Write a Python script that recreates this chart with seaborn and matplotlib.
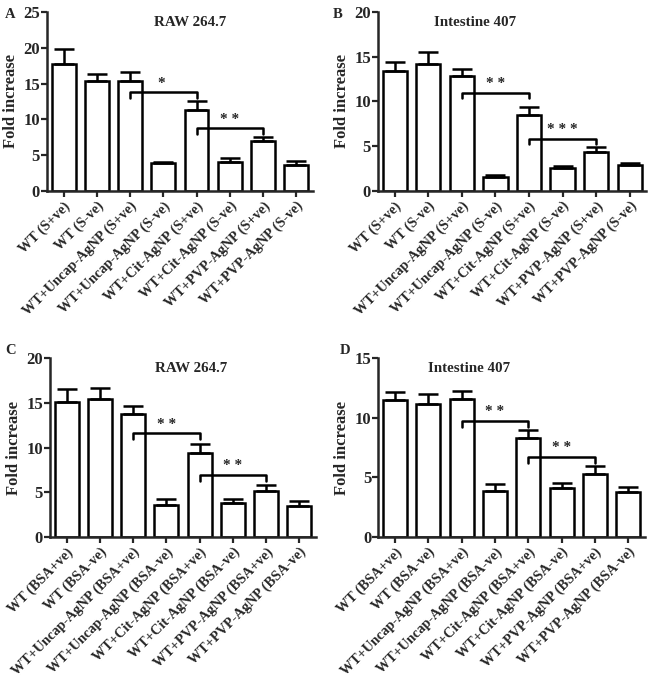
import numpy as np
import pandas as pd
import matplotlib
matplotlib.use("Agg")
import matplotlib.pyplot as plt
import seaborn as sns

sns.set_theme(style="ticks")
plt.rcParams['font.family'] = ['Liberation Serif', 'DejaVu Serif']
plt.rcParams['font.weight'] = 'bold'

# --- Daten ---
labels_s = ['WT (S+ve)', 'WT (S-ve)', 'WT+Uncap-AgNP (S+ve)', 'WT+Uncap-AgNP (S-ve)',
            'WT+Cit-AgNP (S+ve)', 'WT+Cit-AgNP (S-ve)', 'WT+PVP-AgNP (S+ve)', 'WT+PVP-AgNP (S-ve)']
labels_bsa = ['WT (BSA+ve)', 'WT (BSA-ve)', 'WT+Uncap-AgNP (BSA+ve)', 'WT+Uncap-AgNP (BSA-ve)',
              'WT+Cit-AgNP (BSA+ve)', 'WT+Cit-AgNP (BSA-ve)', 'WT+PVP-AgNP (BSA+ve)', 'WT+PVP-AgNP (BSA-ve)']

mean_a = [17.7, 15.4, 15.4, 3.86, 11.27, 4.05, 6.98, 3.63]
err_a = [2.2, 1.0, 1.2, 0.25, 1.3, 0.6, 0.6, 0.6]
mean_b = [13.4, 14.23, 12.8, 1.6, 8.49, 2.6, 4.32, 2.87]
err_b = [0.98, 1.27, 0.87, 0.2, 0.86, 0.2, 0.6, 0.3]
mean_c = [15.1, 15.45, 13.77, 3.62, 9.37, 3.84, 5.15, 3.47]
err_c = [1.4, 1.25, 0.9, 0.6, 1.03, 0.38, 0.63, 0.56]
mean_d = [11.5, 11.15, 11.56, 3.83, 8.27, 4.13, 5.28, 3.77]
err_d = [0.62, 0.81, 0.64, 0.64, 0.73, 0.37, 0.64, 0.45]

# brackets: (left bar, right bar, height, drop, stars)
brackets_a = [(2, 4, 13.8, 0.85, '* '), (4, 6, 8.85, 0.9, '* *')]
brackets_b = [(2, 4, 11.0, 0.65, '* *'), (4, 6, 5.85, 0.65, '* * *')]
brackets_c = [(2, 4, 11.6, 0.7, '* *'), (4, 6, 6.98, 0.7, '* *')]
brackets_d = [(2, 4, 9.75, 0.55, '* *'), (4, 6, 6.73, 0.55, '* *')]

panels = [
    ('A', 'RAW 264.7', labels_s, mean_a, err_a, brackets_a, 25, [0.0723, 0.7204, 0.409, 0.262], 0.54),
    ('B', 'Intestine 407', labels_s, mean_b, err_b, brackets_b, 20, [0.5815, 0.7204, 0.413, 0.262], 0.36),
    ('C', 'RAW 264.7', labels_bsa, mean_c, err_c, brackets_c, 20, [0.0770, 0.2138, 0.409, 0.262], 0.53),
    ('D', 'Intestine 407', labels_bsa, mean_d, err_d, brackets_d, 15, [0.5820, 0.2138, 0.410, 0.262], 0.34),
]
letter_pos = {'A': (0.008, 0.988), 'B': (0.512, 0.988), 'C': (0.008, 0.496), 'D': (0.522, 0.496)}

fig = plt.figure(figsize=(6.5, 6.83), dpi=100)

for letter, title, labels, means, errs, brackets, ymax, rect, tx in panels:
    ax = fig.add_axes(rect)
    df = pd.DataFrame({'group': labels, 'value': means})
    sns.barplot(data=df, x='group', y='value', color='white', edgecolor='black',
                linewidth=1.8, width=0.72, errorbar=None, saturation=1, ax=ax)
    ax.errorbar(range(len(means)), means, yerr=[np.zeros(len(errs)), errs], fmt='none',
                ecolor='black', elinewidth=1.8, capsize=7, capthick=1.8, zorder=1)
    for l, r, h, d, stars in brackets:
        ax.plot([l, l, r, r], [h - d, h, h, h - d], color='black', lw=1.8)
        ax.text((l + r) / 2, h + 0.25, stars, ha='center', va='bottom', fontsize=11)
    ax.set_xlim(-0.5, 7.5)
    ax.set_ylim(0, ymax)
    ax.set_yticks(np.arange(0, ymax + 1, 5))
    ax.set_xlabel('')
    ax.set_ylabel('Fold increase', fontsize=12, fontweight='bold', labelpad=3)
    ax.set_xticks(range(len(labels)))
    ax.set_xticklabels(labels, rotation=45, ha='right', rotation_mode='anchor', fontsize=10.3)
    ax.tick_params(axis='y', labelsize=12, width=1.6, length=4, pad=1)
    ax.tick_params(axis='x', width=1.6, length=4, pad=2)
    for t in ax.get_xticklabels() + ax.get_yticklabels():
        t.set_fontweight('bold')
    sns.despine(ax=ax)
    for s in ['left', 'bottom']:
        ax.spines[s].set_linewidth(1.8)
    ax.text(tx, 0.98, title, transform=ax.transAxes, ha='center', va='top',
            fontsize=10.8, fontweight='bold')
    fx, fy = letter_pos[letter]
    fig.text(fx, fy, letter, fontsize=10.5, fontweight='bold', va='top', ha='left')

fig.savefig('out.png', dpi=100)
